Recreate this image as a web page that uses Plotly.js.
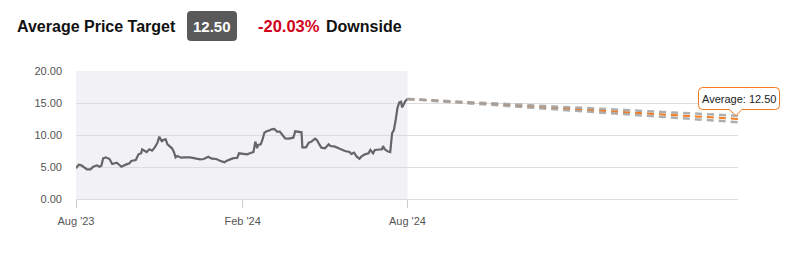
<!DOCTYPE html>
<html>
<head>
<meta charset="utf-8">
<script src="https://cdn.plot.ly/plotly-3.0.1.min.js"></script>
<style>
  html, body { margin: 0; padding: 0; background: #fff; }
  #chart { width: 811px; height: 255px; }
</style>
</head>
<body>
<div id="chart"></div>
<script>
// ---- Data ----
const priceDates = [
  "2023-08-01","2023-08-04","2023-08-07","2023-08-11","2023-08-13","2023-08-17","2023-08-20","2023-08-24",
  "2023-08-27","2023-08-29","2023-08-31","2023-09-03","2023-09-07","2023-09-10","2023-09-15","2023-09-18",
  "2023-09-20","2023-09-25","2023-09-29","2023-10-01","2023-10-06","2023-10-09","2023-10-12","2023-10-13",
  "2023-10-16","2023-10-18","2023-10-21","2023-10-24","2023-10-27","2023-10-30","2023-11-01","2023-11-04",
  "2023-11-05","2023-11-08","2023-11-10","2023-11-12","2023-11-15","2023-11-17","2023-11-19","2023-11-21",
  "2023-11-25","2023-11-29","2023-12-05","2023-12-12","2023-12-16","2023-12-20","2023-12-25","2023-12-29",
  "2024-01-03","2024-01-07","2024-01-12","2024-01-14","2024-01-18","2024-01-21","2024-01-24","2024-01-26",
  "2024-01-28","2024-02-02","2024-02-06","2024-02-09","2024-02-13","2024-02-15","2024-02-17","2024-02-18",
  "2024-02-21","2024-02-23","2024-02-25","2024-02-28","2024-03-01","2024-03-04","2024-03-07","2024-03-10",
  "2024-03-13","2024-03-16","2024-03-19","2024-03-23","2024-03-26","2024-03-28","2024-03-30","2024-04-02",
  "2024-04-05","2024-04-06","2024-04-07","2024-04-11","2024-04-14","2024-04-17","2024-04-21","2024-04-23",
  "2024-04-26","2024-04-28","2024-05-02","2024-05-06","2024-05-08","2024-05-13","2024-05-17","2024-05-21",
  "2024-05-24","2024-05-29","2024-05-31","2024-06-03","2024-06-06","2024-06-09","2024-06-11","2024-06-15",
  "2024-06-19","2024-06-21","2024-06-24","2024-06-26","2024-06-30","2024-07-04","2024-07-05","2024-07-07",
  "2024-07-10","2024-07-13","2024-07-15","2024-07-17","2024-07-19","2024-07-21","2024-07-23","2024-07-25",
  "2024-07-26","2024-07-28","2024-07-30","2024-08-01"
];
const priceValues = [
  4.79,5.37,5.26,4.79,4.64,4.64,5.05,5.26,
  5.05,5.21,6.35,6.51,6.25,5.47,5.68,5.31,
  5.05,5.37,5.57,5.94,6.09,6.98,7.14,7.76,
  7.50,7.34,7.76,7.55,8.07,8.80,9.74,8.96,
  9.22,9.32,8.54,8.28,7.92,7.40,6.51,6.72,
  6.46,6.51,6.51,6.30,6.20,6.25,6.61,6.30,
  6.25,5.99,5.73,5.94,6.25,6.35,6.41,6.41,
  7.14,7.03,6.98,7.14,7.34,8.96,7.92,8.44,
  8.54,9.32,10.36,10.63,10.68,10.89,10.94,10.52,
  10.52,10.00,9.48,9.43,9.53,9.58,10.57,10.47,
  10.42,10.42,8.07,8.07,8.80,8.96,9.43,9.22,
  8.44,8.02,7.92,8.54,8.28,8.18,7.92,7.66,
  7.50,7.34,7.03,7.24,6.61,6.30,6.61,6.98,
  7.14,7.66,7.14,7.66,7.76,7.76,8.28,7.76,
  7.45,7.34,10.26,10.78,12.34,14.27,15.10,15.20,
  14.32,14.95,15.36,15.63
];
const forecastDates = ["2024-08-01", "2025-08-01"];
const currentPrice = 15.63;
const highTarget = 13.00;
const lowTarget = 12.00;
const averageTarget = 12.50;
const downsidePct = "-20.03%";

const xTickVals = ["2023-08-01", "2024-02-01", "2024-08-01"];
const xTickText = ["Aug '23", "Feb '24", "Aug '24"];
const yTickVals = [0, 5, 10, 15, 20];

// ---- Layout helpers (pixel -> paper) ----
const M = {l: 76, r: 73, t: 71, b: 56};
const W = 811, H = 255;
const PW = W - M.l - M.r, PH = H - M.t - M.b;
const PX = x => (x - M.l) / PW;
const PY = y => (H - M.b - y) / PH;

function roundRectPath(x0, y0, x1, y1, r) {
  const p = (x, y) => PX(x) + "," + PY(y);
  return "M" + p(x0 + r, y0) + " L" + p(x1 - r, y0) + " Q" + p(x1, y0) + " " + p(x1, y0 + r) +
         " L" + p(x1, y1 - r) + " Q" + p(x1, y1) + " " + p(x1 - r, y1) +
         " L" + p(x0 + r, y1) + " Q" + p(x0, y1) + " " + p(x0, y1 - r) +
         " L" + p(x0, y0 + r) + " Q" + p(x0, y0) + " " + p(x0 + r, y0) + " Z";
}
function bubblePath(x0, y0, x1, y1, r, nL, nR, tx, ty) {
  const p = (x, y) => PX(x) + "," + PY(y);
  return "M" + p(x0 + r, y0) + " L" + p(x1 - r, y0) + " Q" + p(x1, y0) + " " + p(x1, y0 + r) +
         " L" + p(x1, y1 - r) + " Q" + p(x1, y1) + " " + p(x1 - r, y1) +
         " L" + p(nR, y1) + " L" + p(tx, ty) + " L" + p(nL, y1) +
         " L" + p(x0 + r, y1) + " Q" + p(x0, y1) + " " + p(x0, y1 - r) +
         " L" + p(x0, y0 + r) + " Q" + p(x0, y0) + " " + p(x0 + r, y0) + " Z";
}

const FONT = "Liberation Sans, Arial, Helvetica, sans-serif";
const ORANGE = "#f47b20";
const GREY_DASH = "rgba(160,160,160,0.85)";

const traces = [
  {
    x: priceDates, y: priceValues, type: "scatter", mode: "lines",
    line: {color: "#666666", width: 2.2}, hoverinfo: "skip"
  },
  {
    x: forecastDates, y: [currentPrice, averageTarget], type: "scatter", mode: "lines",
    line: {color: ORANGE, width: 2, dash: "7px,5px"}, hoverinfo: "skip"
  },
  {
    x: forecastDates, y: [currentPrice, highTarget], type: "scatter", mode: "lines",
    line: {color: GREY_DASH, width: 2.5, dash: "7px,5px"}, hoverinfo: "skip"
  },
  {
    x: forecastDates, y: [currentPrice, lowTarget], type: "scatter", mode: "lines",
    line: {color: GREY_DASH, width: 2.5, dash: "7px,5px"}, hoverinfo: "skip"
  }
];

const layout = {
  width: W, height: H,
  margin: M,
  paper_bgcolor: "#ffffff",
  plot_bgcolor: "#ffffff",
  showlegend: false,
  hovermode: false,
  font: {family: FONT, size: 11, color: "#555555"},
  xaxis: {
    type: "date",
    range: ["2023-08-01", "2025-08-01"],
    tickvals: xTickVals, ticktext: xTickText,
    ticks: "outside", ticklen: 8, tickcolor: "#cccccc", tickwidth: 1,
    ticklabelstandoff: 4,
    showgrid: false, zeroline: false, showline: false,
    tickfont: {family: FONT, size: 11, color: "#555555"},
    fixedrange: true
  },
  yaxis: {
    range: [0, 20],
    tickvals: yTickVals, tickformat: ".2f",
    ticks: "", ticklabelstandoff: 13,
    showgrid: true, gridcolor: "#dddddd", gridwidth: 1,
    zeroline: true, zerolinecolor: "#dddddd", zerolinewidth: 1,
    showline: false,
    tickfont: {family: FONT, size: 11, color: "#555555"},
    fixedrange: true
  },
  shapes: [
    {
      type: "rect", xref: "x", yref: "paper",
      x0: "2023-08-01", x1: "2024-08-01", y0: 0, y1: 1,
      fillcolor: "#f2f2f6", line: {width: 0}, layer: "below"
    },
    {
      type: "path", xref: "paper", yref: "paper",
      path: roundRectPath(187, 11, 237, 41, 4),
      fillcolor: "#595959", line: {width: 0}
    },
    {
      type: "path", xref: "paper", yref: "paper",
      path: bubblePath(698.5, 87.5, 779.5, 109.5, 4, 729, 742, 736, 115.5),
      fillcolor: "#ffffff", line: {color: ORANGE, width: 1}
    }
  ],
  annotations: [
    {
      xref: "paper", yref: "paper", x: PX(15), y: PY(26), xanchor: "left", yanchor: "middle",
      text: "Average Price Target", showarrow: false,
      font: {family: FONT, size: 16, color: "#111111", weight: 700}
    },
    {
      xref: "paper", yref: "paper", x: PX(212), y: PY(26), xanchor: "center", yanchor: "middle",
      text: String(averageTarget.toFixed(2)), showarrow: false,
      font: {family: FONT, size: 15, color: "#ffffff", weight: 700}
    },
    {
      xref: "paper", yref: "paper", x: PX(256), y: PY(26), xanchor: "left", yanchor: "middle",
      text: downsidePct, showarrow: false,
      font: {family: FONT, size: 16.5, color: "#d0021b", weight: 700}
    },
    {
      xref: "paper", yref: "paper", x: PX(324), y: PY(26), xanchor: "left", yanchor: "middle",
      text: "Downside", showarrow: false,
      font: {family: FONT, size: 16, color: "#111111", weight: 700}
    },
    {
      xref: "paper", yref: "paper", x: PX(739), y: PY(98.5), xanchor: "center", yanchor: "middle",
      text: "Average: " + averageTarget.toFixed(2), showarrow: false,
      font: {family: FONT, size: 11, color: "#222222"}
    }
  ]
};

Plotly.newPlot("chart", traces, layout, {staticPlot: true, displayModeBar: false});
</script>
</body>
</html>
